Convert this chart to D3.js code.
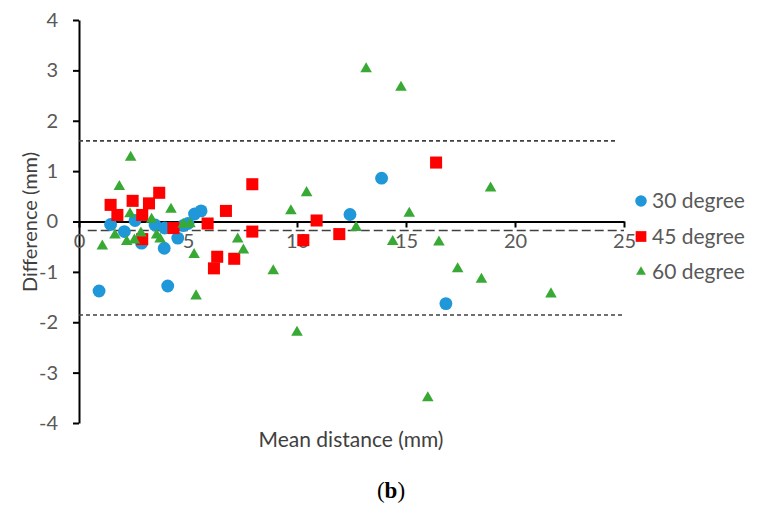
<!DOCTYPE html>
<html><head><meta charset="utf-8">
<script src="https://cdn.jsdelivr.net/npm/d3@7"></script>
<style>body{margin:0;background:#fff}svg{display:block}</style>
</head><body>
<svg id="c" width="783" height="514"></svg>
<script>
// ---- data ----
const xTicks = [0, 5, 10, 15, 20, 25];
const yTicks = [4, 3, 2, 1, 0, -1, -2, -3, -4];
const seriesNames = ["30 degree", "45 degree", "60 degree"];
const x30 = [0.92, 1.45, 2.08, 2.57, 2.87, 3.49, 3.91, 3.93, 4.07, 4.53, 4.79, 5.0, 5.3, 5.6, 12.43, 13.88, 16.83];
const y30 = [-1.38, -0.06, -0.20, 0.02, -0.43, -0.07, -0.53, -0.13, -1.28, -0.33, -0.08, -0.04, 0.15, 0.21, 0.14, 0.86, -1.63];
const x45 = [1.45, 1.76, 2.46, 2.9, 2.9, 3.21, 3.68, 4.33, 5.9, 6.19, 6.34, 6.74, 7.12, 7.95, 7.95, 10.29, 10.9, 11.94, 16.38];
const y45 = [0.33, 0.13, 0.41, 0.13, -0.35, 0.36, 0.57, -0.13, -0.04, -0.93, -0.70, 0.21, -0.74, 0.74, -0.2, -0.37, 0.02, -0.25, 1.17];
const x60 = [1.07, 1.65, 1.85, 2.19, 2.34, 2.37, 2.54, 2.84, 3.33, 3.56, 3.72, 4.22, 4.78, 5.09, 5.28, 5.37, 7.28, 7.54, 8.91, 9.72, 10.0, 10.44, 12.71, 13.17, 14.39, 14.77, 15.15, 16.0, 16.51, 17.37, 18.46, 18.88, 21.65];
const y60 = [-0.49, -0.27, 0.69, -0.4, 0.15, 1.27, -0.37, -0.23, 0.04, -0.27, -0.35, 0.24, -0.06, -0.05, -0.66, -1.48, -0.35, -0.57, -0.98, 0.21, -2.2, 0.57, -0.12, 3.03, -0.4, 2.66, 0.16, -3.5, -0.41, -0.94, -1.15, 0.66, -1.44];
const upperLoA = [[0, 1.60], [24.6, 1.60]];
const meanLine = [[0.4, -0.18], [25, -0.18]];
const lowerLoA = [[0, -1.855], [25, -1.855]];

// ---- chart ----
const svg = d3.select("#c");
const FONT = "Lato, 'Open Sans', sans-serif";
const x = d3.scaleLinear().domain([0, 25]).range([79, 624]);
const y = d3.scaleLinear().domain([-4, 4]).range([423, 20]);

// y axis
const yAxis = svg.append("g").attr("transform", `translate(${x(0)},0)`)
  .call(d3.axisLeft(y).tickValues(yTicks).tickSize(6).tickSizeOuter(0).tickPadding(15).tickFormat(d => String(d)));
// x axis at y=0
const xAxis = svg.append("g").attr("transform", `translate(0,${y(0)})`)
  .call(d3.axisBottom(x).tickValues(xTicks).tickSize(6).tickSizeOuter(0).tickPadding(6).tickFormat(d => String(d)));
[yAxis, xAxis].forEach(g => {
  g.select(".domain").attr("stroke", "#000").attr("stroke-width", 2);
  g.selectAll(".tick line").attr("stroke", "#000").attr("stroke-width", 2);
  g.selectAll(".tick text").attr("fill", "#595959").style("font-family", FONT).style("font-size", "20px");
});

// reference lines
const line = d3.line().x(d => x(d[0])).y(d => y(d[1]));
svg.append("path").datum(upperLoA).attr("d", line).attr("stroke", "#404040").attr("stroke-width", 1.6).attr("stroke-dasharray", "4,3").attr("fill", "none");
svg.append("path").datum(lowerLoA).attr("d", line).attr("stroke", "#404040").attr("stroke-width", 1.6).attr("stroke-dasharray", "4,3").attr("fill", "none");
svg.append("path").datum(meanLine).attr("d", line).attr("stroke", "#404040").attr("stroke-width", 1.6).attr("stroke-dasharray", "9,4").attr("fill", "none");

const colors = ["#1f97d8", "#ff0000", "#39a935"];
const shapes = [d3.symbolCircle, d3.symbolSquare, d3.symbolTriangle];
const sizes = [130, 145, 58];
const sets = [[x30, y30], [x45, y45], [x60, y60]];
sets.forEach((s, i) => {
  const pts = s[0].map((v, j) => [v, s[1][j]]);
  svg.append("g").selectAll("path").data(pts).join("path")
    .attr("transform", d => `translate(${x(d[0])},${y(d[1])})`)
    .attr("d", d3.symbol().type(shapes[i]).size(sizes[i]))
    .attr("fill", colors[i]);
});

// legend
const legSizes = [105, 115, 42];
seriesNames.forEach((n, i) => {
  const ly = 201 + i * 35.5;
  svg.append("path").attr("transform", `translate(641,${ly})`)
    .attr("d", d3.symbol().type(shapes[i]).size(legSizes[i])).attr("fill", colors[i]);
  svg.append("text").attr("x", 652).attr("y", ly + 7).text(n)
    .attr("fill", "#595959").style("font-family", FONT).style("font-size", "21px");
});

// axis titles
svg.append("text").attr("transform", "translate(37,222) rotate(-90)").attr("text-anchor", "middle")
  .text("Difference (mm)").attr("fill", "#404040").style("font-family", FONT).style("font-size", "20px");
svg.append("text").attr("x", 351).attr("y", 447).attr("text-anchor", "middle")
  .text("Mean distance (mm)").attr("fill", "#404040").style("font-family", FONT).style("font-size", "21px");

// caption
const cap = svg.append("text").attr("x", 391).attr("y", 498).attr("text-anchor", "middle")
  .style("font-family", "'Liberation Serif', serif").style("font-size", "23px").attr("fill", "#000");
cap.append("tspan").text("(");
cap.append("tspan").text("b").style("font-weight", "bold");
cap.append("tspan").text(")");
</script>
</body></html>
